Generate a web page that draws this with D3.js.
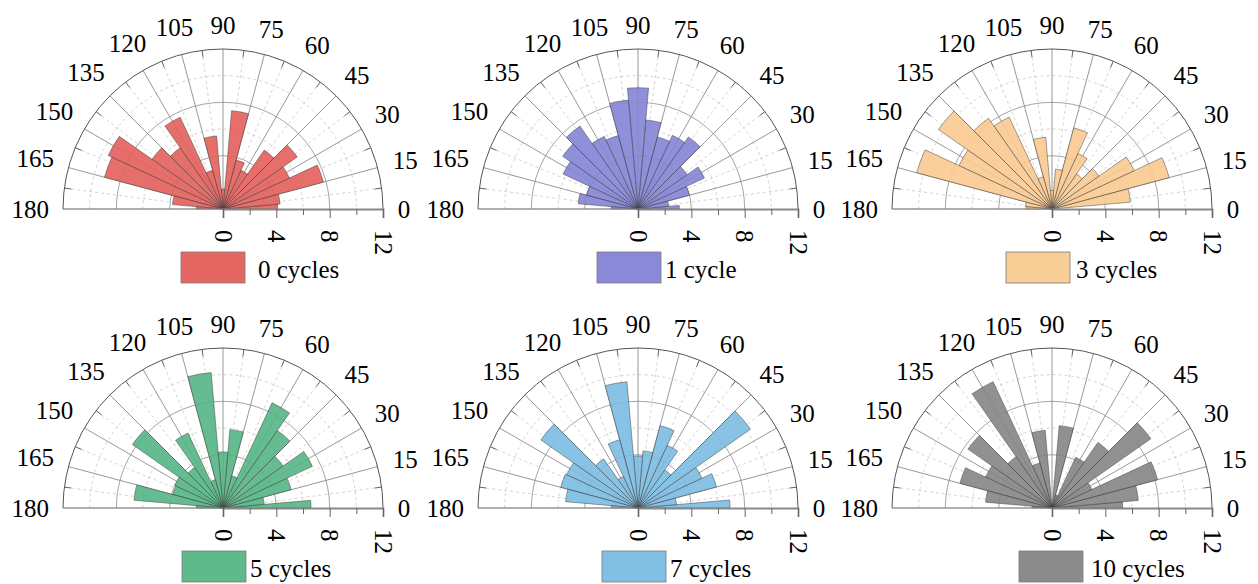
<!DOCTYPE html>
<html><head><meta charset="utf-8">
<script src="https://cdn.jsdelivr.net/npm/d3@7"></script>
<style>
body{margin:0;background:#fff;}
svg text{font-family:"Liberation Serif","DejaVu Serif","Noto Serif",Times,serif !important;fill:#000;}
</style>
</head><body>
<svg id="c" width="1258" height="584"></svg>
<script>
// ---------- data ----------
const binCenters = [0,10,20,30,40,50,60,70,80,90,100,110,120,130,140,150,160,170,180];
const angleTicks = [0,15,30,45,60,75,90,105,120,135,150,165,180];
const radialTicks = [0,4,8,12];
const radialMinorTicks = [2,6,10];
const seriesNames = ["0 cycles","1 cycle","3 cycles","5 cycles","7 cycles","10 cycles"];
const cycles0  = [4.1,4.3,7.8,5.5,6.8,5.4,3.2,3.8,7.4,1.5,5.5,3.0,7.6,5.6,6.5,9.5,9.2,3.8,2.0];
const cycles1  = [3.1,2.3,4.0,5.5,4.5,6.6,6.1,5.6,6.7,9.1,8.2,5.7,6.0,7.6,6.9,6.2,4.0,4.5,2.0];
const cycles3  = [0.3,5.9,9.1,6.8,4.3,3.2,4.6,6.3,3.0,1.4,5.4,2.5,7.6,8.3,10.4,7.7,10.5,2.0,1.9];
const cycles5  = [6.6,3.1,5.3,7.4,5.5,7.1,8.7,2.5,5.9,4.2,10.2,2.2,6.2,3.7,8.3,4.0,3.9,6.7,2.0];
const cycles7  = [6.9,2.9,6.1,5.3,10.3,3.5,5.2,6.4,4.3,3.9,9.5,5.3,2.6,4.5,8.9,5.9,6.0,5.45,2.0];
const cycles10 = [5.3,6.5,8.2,3.3,9.05,6.0,4.2,1.0,6.2,0.3,5.85,3.5,10.45,4.7,7.7,5.5,7.15,5.0,1.5];
const seriesValues = [cycles0,cycles1,cycles3,cycles5,cycles7,cycles10];
const seriesColors = ["#E45F5B","#8383D6","#F9CA90","#55B585","#7BBDE2","#858585"];

// ---------- layout ----------
const W = 1258, H = 584;
const colX = [223, 638, 1052], rowY = [209, 508];
const R = 160, binHalf = 5, fontSize = 25;
const FONT = '"Liberation Serif","DejaVu Serif","Noto Serif",Times,serif';
const legendRectDx = [-42,-41,-46,-41,-36,-33];
const legendTextDx = [35,27,24,27,32,39];

const svg = d3.select("#c");
svg.append("rect").attr("width",W).attr("height",H).attr("fill","#fff");

const rScale = d3.scaleLinear().domain([0,12]).range([0,R]);
const mathAng = d3.scaleLinear().domain([0,180]).range([0,Math.PI]);       // ccw from +x
const d3Ang = d3.scaleLinear().domain([0,180]).range([Math.PI/2,-Math.PI/2]); // d3.arc convention
const barArc = d3.arc().innerRadius(0);

function halfCircle(r){
  const p = d3.path();
  p.moveTo(-r,0);
  p.arc(0,0,r,Math.PI,2*Math.PI);
  return p.toString();
}
function pt(deg, r){ const a = mathAng(deg); return [r*Math.cos(a), -r*Math.sin(a)]; }

seriesValues.forEach((vals, i) => {
  const cx = colX[i%3], cy = rowY[Math.floor(i/3)];
  const g = svg.append("g").attr("transform",`translate(${cx},${cy})`);

  g.selectAll("path.dc").data(radialMinorTicks).join("path")
    .attr("d", d=>halfCircle(rScale(d))).attr("fill","none")
    .attr("stroke","#c8c8c8").attr("stroke-width",0.8).attr("stroke-dasharray","3,3");
  const minorAngles = d3.range(7.5,180,15);
  g.selectAll("line.dr").data(minorAngles).join("line")
    .attr("x1",0).attr("y1",0)
    .attr("x2",d=>pt(d,R)[0]).attr("y2",d=>pt(d,R)[1])
    .attr("stroke","#c8c8c8").attr("stroke-width",0.8).attr("stroke-dasharray","3,3");
  g.selectAll("path.sc").data([4,8]).join("path")
    .attr("d", d=>halfCircle(rScale(d))).attr("fill","none")
    .attr("stroke","#9a9a9a").attr("stroke-width",0.9);
  g.selectAll("line.sr").data(angleTicks.filter(d=>d>0)).join("line")
    .attr("x1",0).attr("y1",0)
    .attr("x2",d=>pt(d,R)[0]).attr("y2",d=>pt(d,R)[1])
    .attr("stroke","#8c8c8c").attr("stroke-width",0.9);

  g.selectAll("path.bar").data(binCenters.map((c,k)=>({c, v:vals[k]}))).join("path")
    .attr("d", d=>barArc({outerRadius:rScale(d.v),
       startAngle:d3Ang(Math.max(0,d.c-binHalf)), endAngle:d3Ang(Math.min(180,d.c+binHalf))}))
    .attr("fill", seriesColors[i]).attr("fill-opacity",0.9)
    .attr("stroke","#3c3c3c").attr("stroke-width",0.6).attr("stroke-opacity",0.8);

  g.append("path").attr("d",halfCircle(R)).attr("fill","none")
    .attr("stroke","#555").attr("stroke-width",1);
  g.selectAll("line.mt").data(minorAngles).join("line")
    .attr("x1",d=>pt(d,R)[0]).attr("y1",d=>pt(d,R)[1])
    .attr("x2",d=>pt(d,R-7)[0]).attr("y2",d=>pt(d,R-7)[1])
    .attr("stroke","#555").attr("stroke-width",0.9);

  g.append("line").attr("x1",-R).attr("y1",0).attr("x2",0).attr("y2",0)
    .attr("stroke","#8c8c8c").attr("stroke-width",0.9);

  const ax = g.append("g").call(d3.axisBottom(rScale).tickValues(radialTicks).tickSize(9).tickFormat(d3.format("d")));
  ax.attr("font-family", FONT).attr("font-size", fontSize);
  ax.select(".domain").attr("stroke","#888").attr("stroke-width",1.8);
  ax.selectAll(".tick line").attr("stroke","#666").attr("stroke-width",1);
  ax.selectAll(".tick text")
    .attr("transform","rotate(90)")
    .attr("x",21).attr("y",0).attr("dy","0.35em")
    .attr("text-anchor","start")
    .attr("font-family", FONT)
    .attr("font-size",fontSize).attr("fill","#000");
  const axm = g.append("g").call(d3.axisBottom(rScale).tickValues(radialMinorTicks).tickSize(6).tickFormat(""));
  axm.select(".domain").remove();
  axm.selectAll(".tick line").attr("stroke","#666").attr("stroke-width",1);

  const gap = 15, digitH = fontSize*0.68;
  g.selectAll("text.al").data(angleTicks).join("text")
    .attr("class","al").attr("font-family",FONT).attr("font-size",fontSize)
    .attr("text-anchor","middle").attr("dy","0.34em")
    .text(d=>d)
    .each(function(d){
      const w = this.getComputedTextLength()*0.95;
      const a = mathAng(d);
      const s = Math.abs(Math.cos(a))*w/2 + Math.abs(Math.sin(a))*digitH/2;
      const p = pt(d, R+gap+s);
      d3.select(this).attr("x",p[0]).attr("y",p[1]);
    });

  const lg = g.append("g");
  lg.append("rect").attr("x",legendRectDx[i]).attr("y",43).attr("width",64).attr("height",31)
    .attr("fill",seriesColors[i]).attr("fill-opacity",0.95).attr("stroke","#7a7a7a").attr("stroke-width",0.8);
  lg.append("text").attr("x",legendTextDx[i]).attr("y",69)
    .attr("font-family",FONT).attr("font-size",fontSize)
    .text(seriesNames[i]);
});
</script>
</body></html>
